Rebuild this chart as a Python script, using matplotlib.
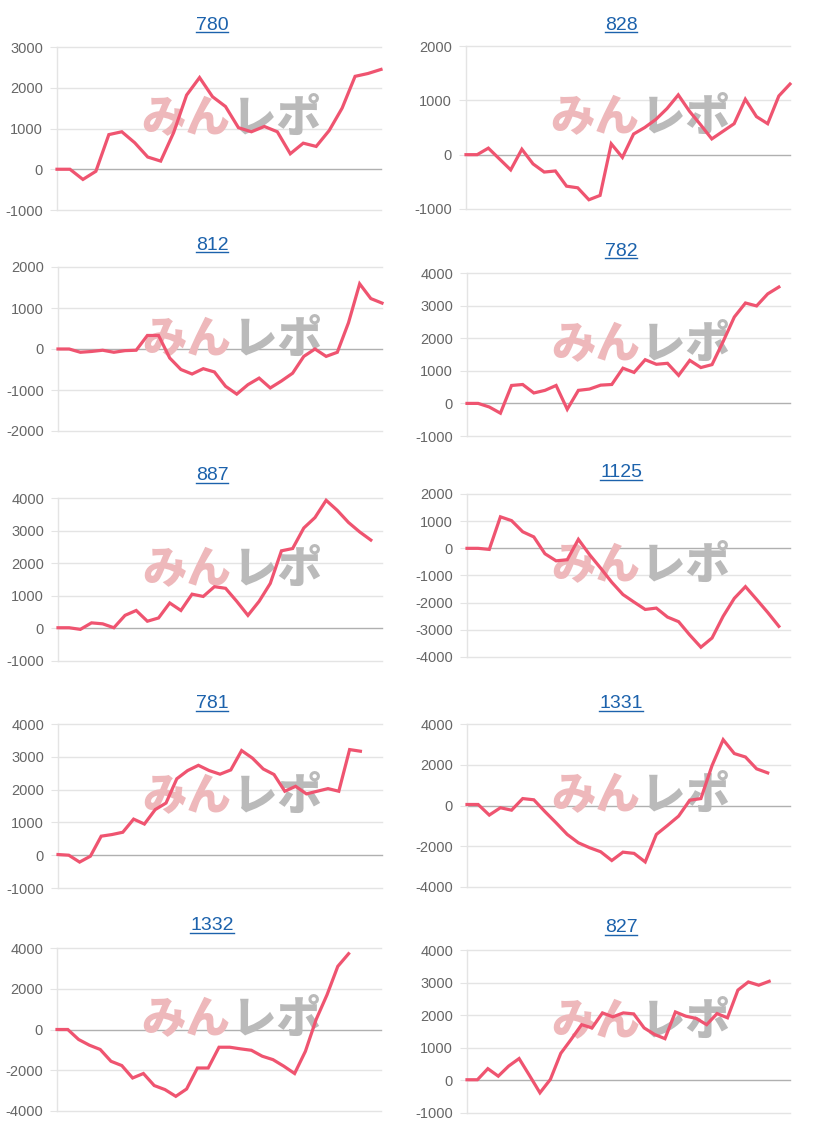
import matplotlib
matplotlib.use("Agg")
import matplotlib.pyplot as plt
from matplotlib.lines import Line2D

plt.rcParams["font.family"] = ["Liberation Sans", "DejaVu Sans"]
plt.rcParams["axes.unicode_minus"] = False

# machine numbers shown as panel titles
titles = ["780", "828", "812", "782", "887", "1125", "781", "1331", "1332", "827"]

# number of x slots (days) on each chart
n_labels = [26, 30, 30, 30, 30, 30, 31, 30, 31, 32]

s780 = [0, 0, -250, -50, 850, 920, 650, 300, 200, 900, 1820, 2250, 1780, 1540,
        1020, 920, 1050, 920, 380, 640, 560, 950, 1500, 2280, 2350, 2450]
s828 = [0, 0, 120, -80, -280, 100, -170, -320, -300, -580, -610, -830, -750, 200,
        -50, 380, 500, 650, 850, 1100, 800, 550, 290, 430, 570, 1020, 700, 570,
        1080, 1300]
s812 = [0, 0, -80, -60, -30, -80, -40, -30, 330, 330, -220, -500, -610, -480,
        -560, -910, -1100, -870, -710, -950, -780, -590, -180, 0, -180, -80, 640,
        1590, 1230, 1120]
s782 = [0, 0, -110, -300, 550, 580, 320, 400, 550, -180, 400, 440, 560, 580,
        1080, 950, 1340, 1200, 1230, 860, 1320, 1100, 1190, 1900, 2650, 3080,
        2990, 3360, 3570]
s887 = [20, 20, -30, 170, 140, 20, 400, 550, 220, 320, 780, 550, 1050, 980,
        1280, 1230, 830, 400, 830, 1380, 2380, 2450, 3080, 3400, 3930, 3620,
        3250, 2960, 2710]
s1125 = [0, 0, -40, 1160, 1020, 610, 420, -200, -460, -420, 330, -230, -730,
         -1250, -1700, -1980, -2250, -2200, -2530, -2700, -3190, -3640, -3300,
         -2500, -1840, -1410, -1880, -2360, -2870]
s781 = [20, 0, -210, -30, 580, 630, 700, 1100, 950, 1390, 1590, 2330, 2580,
        2740, 2580, 2470, 2600, 3190, 2960, 2630, 2460, 1950, 2100, 1870, 1950,
        2030, 1950, 3220, 3170]
s1331 = [50, 50, -470, -110, -230, 340, 280, -300, -850, -1420, -1830, -2070,
         -2270, -2700, -2290, -2350, -2770, -1420, -980, -520, 260, 340, 1960,
         3230, 2550, 2380, 1800, 1600]
s1332 = [0, 0, -490, -770, -980, -1560, -1770, -2380, -2160, -2750, -2950,
         -3280, -2920, -1890, -1890, -870, -870, -950, -1020, -1310, -1480,
         -1800, -2160, -1070, 500, 1700, 3100, 3720]
s827 = [20, 20, 360, 130, 440, 670, 150, -380, 30, 830, 1260, 1710, 1610, 2070,
        1950, 2070, 2040, 1610, 1410, 1280, 2100, 1970, 1900, 1710, 2050, 1920,
        2770, 3020, 2920, 3040]

series = [s780, s828, s812, s782, s887, s1125, s781, s1331, s1332, s827]

# (min, max, step) of each y axis
y_axes = [(-1000, 3000, 1000), (-1000, 2000, 1000), (-2000, 2000, 1000),
          (-1000, 4000, 1000), (-1000, 4000, 1000), (-4000, 2000, 1000),
          (-1000, 4000, 1000), (-4000, 4000, 2000), (-4000, 4000, 2000),
          (-1000, 4000, 1000)]

W, H = 816, 1130
LINE = "#ef5470"
TITLE = "#1c62ac"

# plot boxes in pixels: x0, x1, top, bottom ; title underline y
boxes = [(57, 381, 47, 210), (466, 790, 46, 209),
         (58, 382, 267, 431), (467, 790, 273, 436),
         (58, 382, 498, 661), (467, 790, 494, 657),
         (58, 382, 724, 888), (467, 790, 724, 887),
         (57, 381, 948, 1111), (467, 790, 950, 1113)]
underline_y = [32, 32, 252, 258, 483, 480, 711, 711, 933, 935]

fig = plt.figure(figsize=(W / 100, H / 100), dpi=100)
fig.patch.set_facecolor("white")

title_texts = []
for i, vals in enumerate(series):
    x0, x1, top, bot = boxes[i]
    ax = fig.add_axes([x0 / W, 1 - bot / H, (x1 - x0) / W, (bot - top) / H])
    lo, hi, step = y_axes[i]
    ticks = list(range(lo, hi + 1, step))
    ax.set_ylim(lo, hi)
    ax.set_xlim(0, n_labels[i] - 1)
    ax.set_yticks(ticks)
    ax.set_xticks([])
    for t in ticks:
        ax.axhline(t, color="#b0b0b0" if t == 0 else "#e4e4e4",
                   lw=1.0, zorder=1, clip_on=False)
    for side in ["top", "right", "bottom"]:
        ax.spines[side].set_visible(False)
    ax.spines["left"].set_color("#e4e4e4")
    ax.spines["left"].set_linewidth(1.0)
    ax.tick_params(axis="y", length=5, width=0.8, color="#e4e4e4", pad=5,
                   labelsize=10.5, labelcolor="#666666")

    # watermark
    ax.text(0.535, 0.56, "みん", transform=ax.transAxes, ha="right", va="center",
            fontsize=32, fontweight="black", color="#eeb8bb",
            family=["Noto Sans CJK JP"], zorder=2)
    ax.text(0.540, 0.56, "レポ", transform=ax.transAxes, ha="left", va="center",
            fontsize=32, fontweight="black", color="#bababa",
            family=["Noto Sans CJK JP"], zorder=2)

    ax.plot(range(len(vals)), vals, color=LINE, lw=2.3, zorder=3,
            solid_joinstyle="miter", clip_on=False)

    cx = 212 if x0 < 400 else 621
    t = fig.text(cx / W, 1 - (underline_y[i] - 2.5) / H, titles[i], ha="center",
                 va="baseline", fontsize=14, color=TITLE)
    title_texts.append((t, underline_y[i]))

fig.canvas.draw()
renderer = fig.canvas.get_renderer()
for t, uy in title_texts:
    bb = t.get_window_extent(renderer)
    fig.add_artist(Line2D([bb.x0 / W, bb.x1 / W], [1 - uy / H, 1 - uy / H],
                          transform=fig.transFigure, color=TITLE, lw=1.0))

fig.savefig("out.png", dpi=100, facecolor="white")
